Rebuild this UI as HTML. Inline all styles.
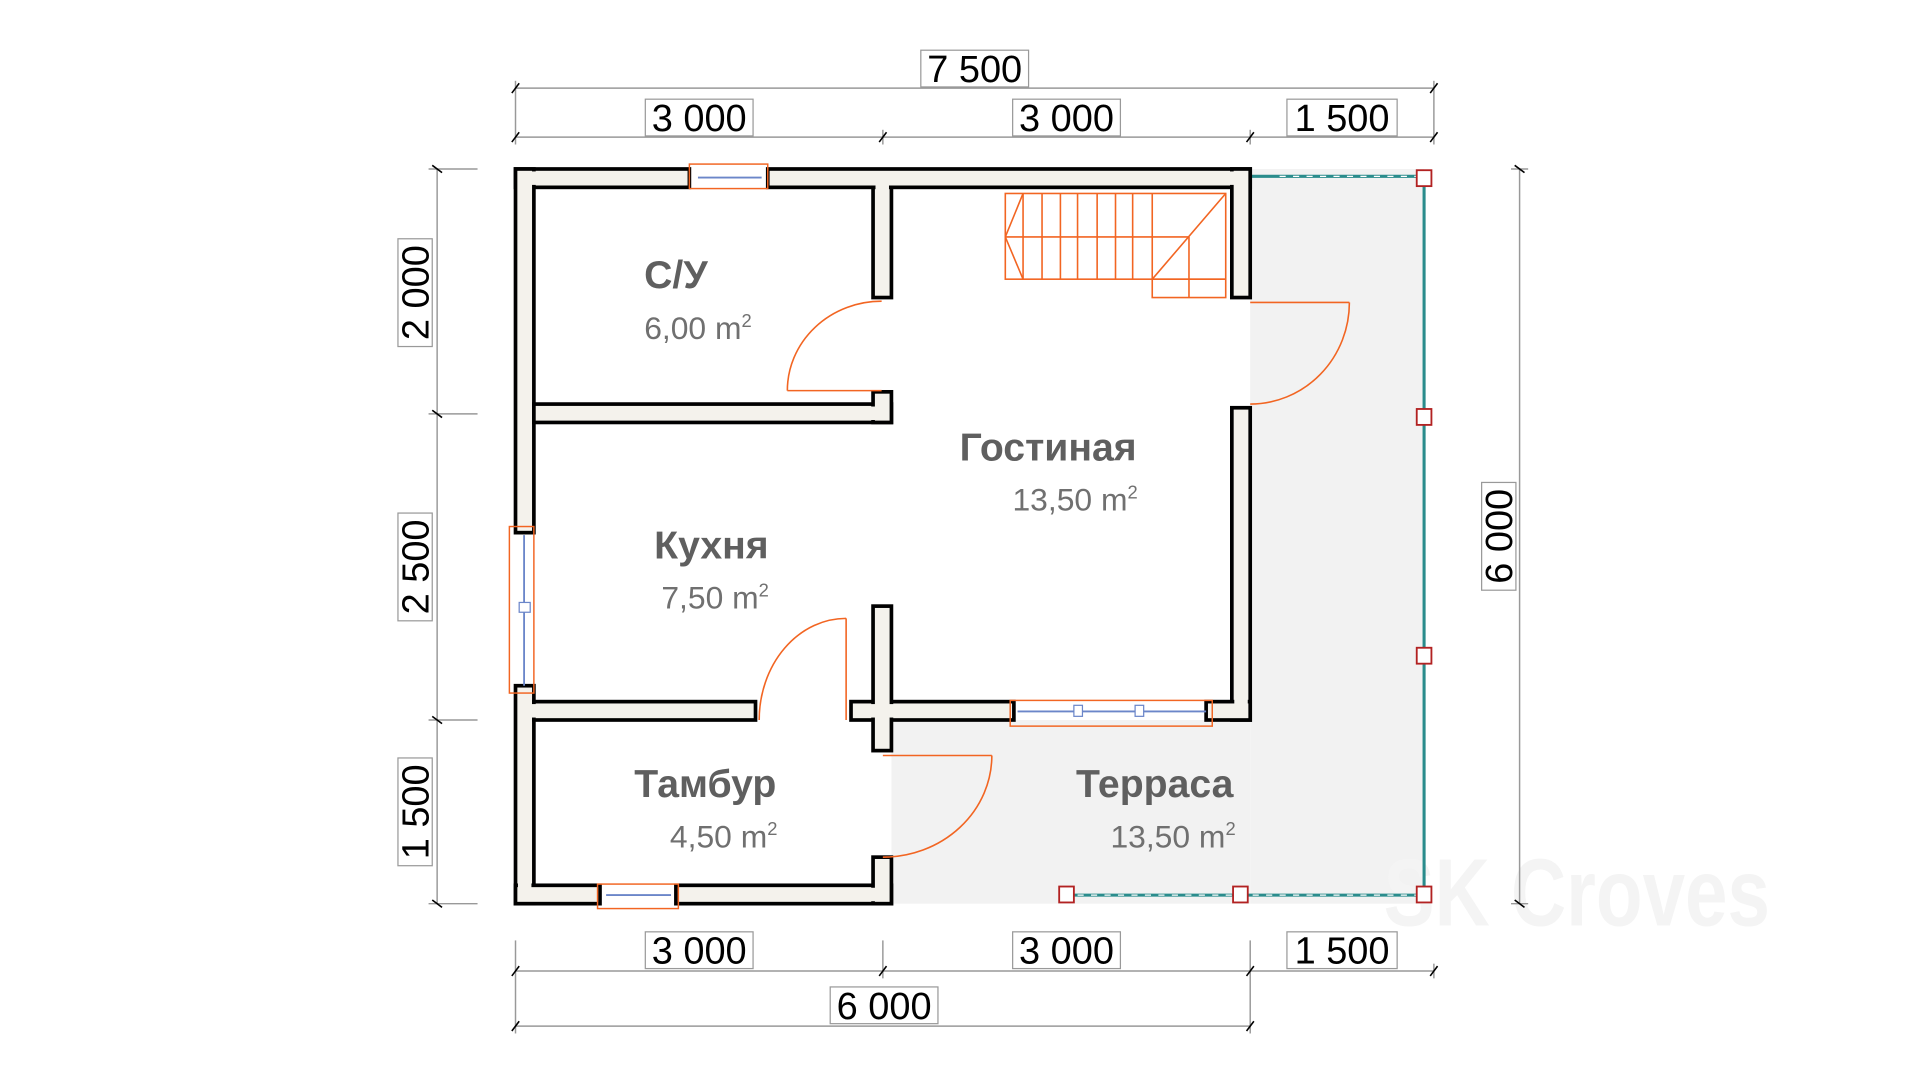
<!DOCTYPE html>
<html><head><meta charset="utf-8"><style>
html,body{margin:0;padding:0;background:#fff;}
svg{display:block;}
text{font-family:"Liberation Sans","DejaVu Sans",sans-serif;}
</style></head><body>
<svg width="1920" height="1080" viewBox="0 0 1568 882" preserveAspectRatio="none" xmlns="http://www.w3.org/2000/svg">
<!-- terrace -->
<rect x="1021" y="138" width="142" height="600" fill="#f2f2f2"/>
<rect x="728" y="588" width="293" height="150" fill="#f2f2f2"/>
<text x="0" y="0" font-size="78" font-weight="bold" fill="#f4f4f4" transform="translate(1130,756) scale(0.8,1)">SK Croves</text>

<!-- teal railings -->
<g stroke="#2a8c8c" stroke-width="2.5" fill="none">
<line x1="1021" y1="144" x2="1163" y2="144"/>
<line x1="1163" y1="145" x2="1163" y2="730"/>
<line x1="871" y1="731" x2="1163" y2="731"/>
</g>
<g stroke="#fff" stroke-width="1" stroke-dasharray="5,6"><line x1="1045" y1="144" x2="1160" y2="144"/><line x1="880" y1="731" x2="1160" y2="731"/></g>
<g fill="#fff" stroke="#b22222" stroke-width="1.5">
<rect x="1157" y="139" width="12" height="13"/><rect x="1157" y="334" width="12" height="13"/>
<rect x="1157" y="529" width="12" height="13"/><rect x="1157" y="724" width="12" height="13"/>
<rect x="865" y="724" width="12" height="13"/><rect x="1007" y="724" width="12" height="13"/>
</g>

<!-- walls -->
<g fill="#f4f2ec" stroke="#000" stroke-width="3">
<rect x="421" y="138" width="142" height="15"/>
<rect x="627" y="138" width="394" height="15"/>
<rect x="421" y="138" width="15" height="297"/>
<rect x="421" y="560" width="15" height="178"/>
<rect x="421" y="723" width="69" height="15"/>
<rect x="552" y="723" width="176" height="15"/>
<rect x="1006" y="138" width="15" height="105"/>
<rect x="1006" y="333" width="15" height="255"/>
<rect x="713" y="153" width="15" height="90"/>
<rect x="436" y="330" width="292" height="15"/>
<rect x="713" y="320" width="15" height="25"/>
<rect x="436" y="573" width="181" height="15"/>
<rect x="695" y="573" width="133" height="15"/>
<rect x="985" y="573" width="36" height="15"/>
<rect x="713" y="495" width="15" height="118"/>
<rect x="713" y="700" width="15" height="38"/>
</g>
<g fill="#f4f2ec">
<rect x="423" y="140" width="138" height="11"/><rect x="629" y="140" width="390" height="11"/>
<rect x="423" y="140" width="11" height="293"/><rect x="423" y="562" width="11" height="174"/>
<rect x="423" y="725" width="65" height="11"/><rect x="554" y="725" width="172" height="11"/>
<rect x="1008" y="140" width="11" height="101"/><rect x="1008" y="335" width="11" height="251"/>
<rect x="715" y="140" width="11" height="101"/><rect x="438" y="332" width="288" height="11"/>
<rect x="715" y="322" width="11" height="21"/>
<rect x="423" y="575" width="192" height="11"/><rect x="697" y="575" width="129" height="11"/>
<rect x="987" y="575" width="32" height="11"/><rect x="715" y="497" width="11" height="114"/>
<rect x="715" y="575" width="11" height="36"/><rect x="715" y="702" width="11" height="34"/>
</g>

<!-- windows -->
<g fill="none" stroke="#f26522" stroke-width="1.2">
<rect x="563" y="134" width="64" height="20"/>
<rect x="416" y="430" width="20" height="136"/>
<rect x="488" y="722" width="66" height="20"/>
<rect x="825" y="572" width="165" height="21"/>
</g>
<g stroke="#6b86c9" stroke-width="1.5" fill="none">
<line x1="570" y1="145" x2="622" y2="145"/>
<line x1="428" y1="437" x2="428" y2="560"/>
<line x1="495" y1="731" x2="548" y2="731"/>
<line x1="831" y1="581" x2="985" y2="581"/>
</g>
<g fill="#fff" stroke="#6b86c9" stroke-width="1"><rect x="424" y="492" width="9" height="8"/><rect x="877" y="576" width="7" height="9"/><rect x="927" y="576" width="7" height="9"/></g>

<!-- stairs -->
<g stroke="#f26522" stroke-width="1.3" fill="none">
<rect x="821" y="158" width="180" height="70"/>
<rect x="941" y="228" width="60" height="15"/>
<line x1="971" y1="228" x2="971" y2="243"/>
<line x1="971" y1="193.5" x2="971" y2="228"/>
<line x1="821" y1="193.5" x2="971" y2="193.5"/>
<line x1="835.5" y1="158" x2="835.5" y2="228"/><line x1="851" y1="158" x2="851" y2="228"/>
<line x1="866" y1="158" x2="866" y2="228"/><line x1="880" y1="158" x2="880" y2="228"/>
<line x1="896" y1="158" x2="896" y2="228"/><line x1="911" y1="158" x2="911" y2="228"/>
<line x1="925" y1="158" x2="925" y2="228"/><line x1="941" y1="158" x2="941" y2="228"/>
<line x1="821" y1="193.5" x2="835.5" y2="158"/><line x1="821" y1="193.5" x2="835.5" y2="228"/>
<line x1="1001" y1="158" x2="941" y2="228"/>
</g>

<!-- doors -->
<g stroke="#f26522" stroke-width="1.3" fill="none">
<path d="M643,319 L720,319 M643,319 A77,73 0 0 1 720,246"/>
<path d="M1021,247 L1102,247 M1102,247 A81,83 0 0 1 1021,330"/>
<path d="M691,505 L691,588 M691,505 A71,83 0 0 0 620,588"/>
<path d="M721,617 L810,617 M810,617 A89,83 0 0 1 721,700"/>
</g>

<!-- room labels -->
<g text-anchor="middle" fill="#5f5f5f">
<text x="552" y="235" font-size="32" font-weight="bold">С/У</text>
<text x="570" y="277" font-size="26" fill="#707070">6,00 m<tspan font-size="15" dy="-10">2</tspan></text>
<text x="856" y="376" font-size="32" font-weight="bold">Гостиная</text>
<text x="878" y="417" font-size="26" fill="#707070">13,50 m<tspan font-size="15" dy="-10">2</tspan></text>
<text x="581" y="456" font-size="32" font-weight="bold">Кухня</text>
<text x="584" y="497" font-size="26" fill="#707070">7,50 m<tspan font-size="15" dy="-10">2</tspan></text>
<text x="576" y="651" font-size="32" font-weight="bold">Тамбур</text>
<text x="591" y="692" font-size="26" fill="#707070">4,50 m<tspan font-size="15" dy="-10">2</tspan></text>
<text x="943" y="651" font-size="32" font-weight="bold">Терраса</text>
<text x="958" y="692" font-size="26" fill="#707070">13,50 m<tspan font-size="15" dy="-10">2</tspan></text>
</g>

<!-- dimension lines -->
<g stroke="#999" stroke-width="1.2" fill="none">
<line x1="421" y1="72" x2="1171" y2="72"/>
<line x1="421" y1="112" x2="1171" y2="112"/>
<line x1="421" y1="793" x2="1171" y2="793"/>
<line x1="421" y1="838" x2="1021" y2="838"/>
<line x1="357" y1="138" x2="357" y2="738"/>
<line x1="1241" y1="138" x2="1241" y2="738"/>
<line x1="421" y1="66" x2="421" y2="118"/><line x1="1171" y1="66" x2="1171" y2="118"/>
<line x1="721" y1="106" x2="721" y2="118"/><line x1="1021" y1="106" x2="1021" y2="118"/>
<line x1="421" y1="768" x2="421" y2="844"/><line x1="721" y1="768" x2="721" y2="799"/>
<line x1="1021" y1="768" x2="1021" y2="844"/><line x1="1171" y1="787" x2="1171" y2="799"/>
<line x1="350" y1="138" x2="390" y2="138"/><line x1="350" y1="338" x2="390" y2="338"/>
<line x1="350" y1="588" x2="390" y2="588"/><line x1="350" y1="738" x2="390" y2="738"/>
<line x1="1234" y1="138" x2="1248" y2="138"/><line x1="1234" y1="738" x2="1248" y2="738"/>
</g>
<g stroke="#000" stroke-width="1.3">
<line x1="418" y1="76" x2="424" y2="68"/><line x1="1168" y1="76" x2="1174" y2="68"/>
<line x1="418" y1="116" x2="424" y2="108"/><line x1="718" y1="116" x2="724" y2="108"/>
<line x1="1018" y1="116" x2="1024" y2="108"/><line x1="1168" y1="116" x2="1174" y2="108"/>
<line x1="418" y1="797" x2="424" y2="789"/><line x1="718" y1="797" x2="724" y2="789"/>
<line x1="1018" y1="797" x2="1024" y2="789"/><line x1="1168" y1="797" x2="1174" y2="789"/>
<line x1="418" y1="842" x2="424" y2="834"/><line x1="1018" y1="842" x2="1024" y2="834"/>
<line x1="353" y1="135" x2="361" y2="141"/><line x1="353" y1="335" x2="361" y2="341"/>
<line x1="353" y1="585" x2="361" y2="591"/><line x1="353" y1="735" x2="361" y2="741"/>
<line x1="1237" y1="135" x2="1245" y2="141"/><line x1="1237" y1="735" x2="1245" y2="741"/>
</g>
<g fill="#fff" stroke="#999" stroke-width="1">
<rect x="752" y="41" width="88" height="30"/>
<rect x="527" y="81" width="88" height="30"/><rect x="827" y="81" width="88" height="30"/><rect x="1051" y="81" width="90" height="30"/>
<rect x="527" y="761" width="88" height="30"/><rect x="827" y="761" width="88" height="30"/><rect x="1051" y="761" width="90" height="30"/>
<rect x="678" y="806" width="88" height="30"/>
<rect x="325" y="195" width="28" height="88"/><rect x="325" y="419" width="28" height="88"/><rect x="325" y="619" width="28" height="88"/>
<rect x="1210" y="394" width="28" height="88"/>
</g>
<g font-size="31" fill="#000" text-anchor="middle">
<text x="796" y="67">7 500</text>
<text x="571" y="107">3 000</text><text x="871" y="107">3 000</text><text x="1096" y="107">1 500</text>
<text x="571" y="787">3 000</text><text x="871" y="787">3 000</text><text x="1096" y="787">1 500</text>
<text x="722" y="832">6 000</text>
<text transform="translate(350,239) rotate(-90)">2 000</text>
<text transform="translate(350,463) rotate(-90)">2 500</text>
<text transform="translate(350,663) rotate(-90)">1 500</text>
<text transform="translate(1235,438) rotate(-90)">6 000</text>
</g>
</svg>
</body></html>
